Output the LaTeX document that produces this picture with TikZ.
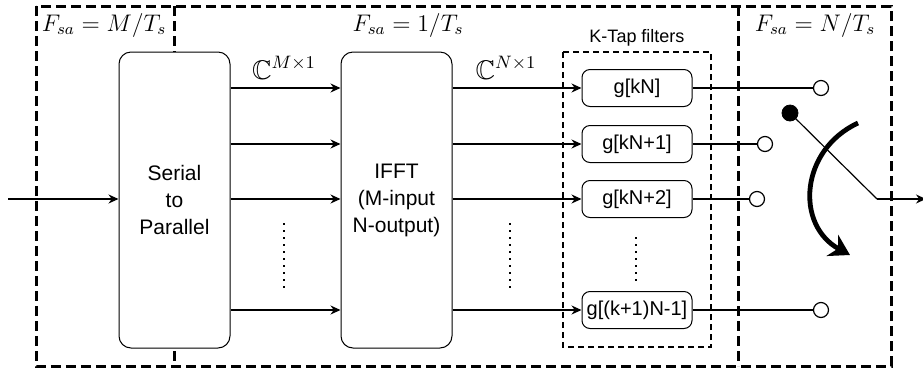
\documentclass[tikz,border=0pt]{standalone}
\usepackage{fontspec}
\setsansfont{Liberation Sans}
\usepackage{amsmath}
\usepackage{amssymb}
\usepackage{xcolor}
\definecolor{Black}{RGB}{0,0,0}
\definecolor{White}{RGB}{255,255,255}
\newcommand{\fsa}{ F_{sa} }
\newcommand{\tsym}{ T_s }
\usetikzlibrary{arrows.meta}

\tikzset{
	frame/.style={draw=Black, line width=1.5pt, dash pattern=on 5pt off 2.5pt},
	tapframe/.style={draw=Black, line width=0.6pt, dash pattern=on 3pt off 2pt},
	block/.style={draw=Black, fill=White, rounded corners=6pt, line width=0.5pt, minimum width=55.5pt, minimum height=148pt, align=center, inner sep=0pt, font=\sffamily\fontsize{10.5}{13.5}\selectfont},
	tapbox/.style={draw=Black, fill=White, rounded corners=4pt, line width=0.5pt, minimum width=55pt, minimum height=18.5pt, inner sep=0pt, font=\sffamily\fontsize{10}{12}\selectfont},
	port/.style={circle, draw=Black, fill=White, line width=0.6pt, minimum size=7.5pt, inner sep=0pt},
	pivot/.style={circle, draw=Black, fill=Black, minimum size=8pt, inner sep=0pt},
	sig/.style={draw=Black, line width=0.6pt, -{Stealth[length=5pt, width=4.5pt]}},
	wire/.style={draw=Black, line width=0.6pt},
	rot/.style={draw=Black, line width=2.4pt, -{Stealth[length=10pt, width=12pt]}},
	dots/.style={draw=Black, line width=0.8pt, dash pattern=on 0.8pt off 2.7pt},
	mathlbl/.style={color=Black, font=\fontsize{12}{14}\selectfont},
	dimlbl/.style={color=Black, font=\fontsize{13.5}{15}\selectfont}
}

\begin{document}
\begin{tikzpicture}[x=0.5pt, y=-0.5pt]
		
		\useasboundingbox (0,0) rectangle (923,371);
		
		% Rates
		\draw[frame] (36,6) rectangle (891,366);
		\draw[frame] (174,6) -- (174,366);
		\draw[frame] (738,6) -- (738,366);
		\draw[tapframe] (563,52) rectangle (711,347);
		
		\node[mathlbl] (fsL) at (104,25) {$\fsa = M/\tsym$};
		\node[mathlbl] (fsM) at (408,25) {$\fsa = 1/\tsym$};
		\node[mathlbl] (fsR) at (815,25) {$\fsa = N/\tsym$};
		\node[color=Black, font=\sffamily\fontsize{9}{11}\selectfont] (taplbl) at (637,38) {K-Tap filters};
		
		% Blocks
		\node[block] (sp) at (174.5,200) {Serial\\to\\Parallel};
		\node[block] (ifft) at (396.5,200) {IFFT\\(M-input\\N-output)};
		
		\node[tapbox] (g0) at (637,88) {g[kN]};
		\node[tapbox] (g1) at (637,144) {g[kN+1]};
		\node[tapbox] (g2) at (637,199) {g[kN+2]};
		\node[tapbox] (gN) at (637,310) {g[(k+1)N-1]};
		
		\node[dimlbl] (cM) at (284,68) {$\mathbb{C}^{M\times 1}$};
		\node[dimlbl] (cN) at (506,68) {$\mathbb{C}^{N\times 1}$};
		
		% Input
		\coordinate (in) at (8,199);
		\draw[sig] (in) -- (sp.west |- in);
		
		% Parallel streams
		\draw[sig] (sp.east |- g0) -- (ifft.west |- g0);
		\draw[sig] (sp.east |- g1) -- (ifft.west |- g1);
		\draw[sig] (sp.east |- g2) -- (ifft.west |- g2);
		\draw[sig] (sp.east |- gN) -- (ifft.west |- gN);
		
		\draw[sig] (ifft.east |- g0) -- (g0);
		\draw[sig] (ifft.east |- g1) -- (g1);
		\draw[sig] (ifft.east |- g2) -- (g2);
		\draw[sig] (ifft.east |- gN) -- (gN);
		
		\draw[dots] (284,223) -- (284,292);
		\draw[dots] (510,223) -- (510,292);
		\draw[dots] (636,237) -- (636,282);
		
		% Commutator
		\node[port] (o0) at (821,88) {};
		\node[port] (o1) at (765,144) {};
		\node[port] (o2) at (757,199) {};
		\node[port] (oN) at (821,310) {};
		
		\draw[wire] (g0) -- (o0);
		\draw[wire] (g1) -- (o1);
		\draw[wire] (g2) -- (o2);
		\draw[wire] (gN) -- (oN);
		
		\node[pivot] (sw) at (790,113) {};
		\coordinate (bend) at (877,199);
		\coordinate (out) at (926,199);
		\draw[wire] (sw.center) -- (bend);
		\draw[sig] (bend) -- (out);
		
		\coordinate (rotA) at (858,123);
		\coordinate (rotB) at (850,255);
		\draw[rot] (rotA) .. controls (800,150) and (795,225) .. (rotB);
		
	\end{tikzpicture}
\end{document}
